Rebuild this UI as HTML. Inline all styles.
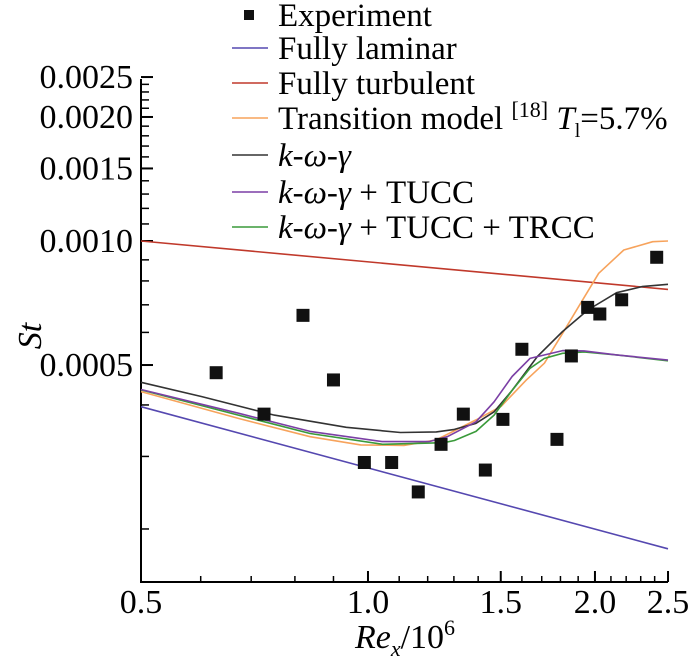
<!DOCTYPE html>
<html><head><meta charset="utf-8"><style>
html,body{margin:0;padding:0;background:#fff;}
svg, svg text, svg tspan{font-family:"Liberation Serif","Times New Roman","DejaVu Serif",serif !important;}
</style></head><body>
<svg id="chart" width="700" height="661" viewBox="0 0 700 661" xmlns="http://www.w3.org/2000/svg" font-family="Liberation Serif, serif">
<g id="axes"></g>
<g id="series"></g>
<g id="legend"></g>
<text x="0" y="0" transform="translate(33,336) rotate(-90)" font-size="34" font-style="italic" text-anchor="middle" dominant-baseline="middle">St</text>
<text x="405" y="648" font-size="34" text-anchor="middle"><tspan font-style="italic">Re</tspan><tspan font-style="italic" font-size="22" dy="8">x</tspan><tspan dy="-8">/10</tspan><tspan font-size="22" dy="-13">6</tspan></text>
</svg>
<script>
const xMajorTicks=[0.5,1.0,1.5,2.0,2.5];
const xTickLabels=["0.5","1.0","1.5","2.0","2.5"];
const xMinorTicks=[0.6,0.7,0.8,0.9,1.1,1.2,1.3,1.4,1.6,1.7,1.8,1.9,2.1,2.2,2.3,2.4];
const yMajorTicks=[0.0005,0.0010,0.0015,0.0020,0.0025];
const yTickLabels=["0.0005","0.0010","0.0015","0.0020","0.0025"];
const yMinorTicks=[0.0002,0.0003,0.0004,0.0006,0.0007,0.0008,0.0009,0.0011,0.0012,0.0013,0.0014,0.0016,0.0017,0.0018,0.0019,0.0021,0.0022,0.0023,0.0024];

const expRe=[0.629,0.728,0.820,0.900,0.989,1.075,1.166,1.25,1.338,1.431,1.51,1.60,1.781,1.861,1.956,2.03,2.17,2.415];
const expSt=[0.000479,0.000380,0.00066,0.00046,0.00029,0.00029,0.000246,0.000321,0.00038,0.000278,0.000369,0.000546,0.00033,0.000526,0.00069,0.000665,0.00072,0.000913];

const lamRe=[0.5,2.5];
const lamSt=[0.000396,0.000179];
const turbRe=[0.5,2.5];
const turbSt=[0.001,0.000763];
const kwgRe=[0.5,0.602,0.751,0.936,1.104,1.232,1.302,1.391,1.470,1.553,1.677,1.812,1.957,2.137,2.308,2.5];
const kwgSt=[0.000454,0.000419,0.000378,0.000353,0.000343,0.000344,0.000349,0.000361,0.000385,0.000434,0.000524,0.000603,0.00068,0.000749,0.000775,0.000785];
const tuccRe=[0.5,0.673,0.838,1.045,1.205,1.274,1.391,1.470,1.553,1.640,1.812,1.935,2.137,2.5];
const tuccSt=[0.000436,0.000382,0.000345,0.000326,0.000326,0.000335,0.000364,0.000407,0.000469,0.000519,0.000542,0.000541,0.000529,0.000514];
const trccRe=[0.5,0.673,0.838,1.045,1.260,1.302,1.391,1.470,1.553,1.640,1.714,1.812,1.935,2.137,2.5];
const trccSt=[0.000435,0.000378,0.000341,0.000321,0.000324,0.000328,0.000345,0.000378,0.000434,0.000491,0.000519,0.000534,0.000538,0.000529,0.000512];
const transRe=[0.5,0.673,0.838,0.978,1.116,1.232,1.391,1.502,1.622,1.714,1.812,1.914,2.023,2.184,2.386,2.5];
const transSt=[0.000431,0.000371,0.000335,0.00032,0.000319,0.000329,0.000368,0.000397,0.00046,0.000505,0.000597,0.000706,0.000835,0.000951,0.000996,0.001];

const NS="http://www.w3.org/2000/svg";
const X0=141,X1=668,Y_REF=241,PX_DEC_X=754,PX_DEC_Y=412,YBOT=582,YTOP=79;
function xs(v){return X0+PX_DEC_X*Math.log10(v/0.5);}
function ys(v){return Y_REF-PX_DEC_Y*Math.log10(v/0.001);}
function mk(tag,attrs,parent){const e=document.createElementNS(NS,tag);for(const k in attrs)e.setAttribute(k,attrs[k]);parent.appendChild(e);return e;}

const axes=document.getElementById('axes');
let a=mk('line',{x1:X0,y1:YTOP,x2:X0,y2:YBOT,stroke:'#000','stroke-width':2},axes);


a=mk('line',{x1:X0-1,y1:YBOT,x2:X1,y2:YBOT,stroke:'#000','stroke-width':2},axes);


xMajorTicks.forEach((v,i)=>{
  const t=mk('line',{x1:xs(v),y1:YBOT,x2:xs(v),y2:YBOT-11,stroke:'#000','stroke-width':2},axes);
  
  
  const l=mk('text',{x:xs(v),y:613,'font-size':34,'text-anchor':'middle'},axes);
  l.textContent=xTickLabels[i];
  
  
});
xMinorTicks.forEach(v=>{
  const t=mk('line',{x1:xs(v),y1:YBOT,x2:xs(v),y2:YBOT-6,stroke:'#000','stroke-width':1.5},axes);
  
  
});
yMajorTicks.forEach((v,i)=>{
  const t=mk('line',{x1:X0,y1:ys(v),x2:X0+12,y2:ys(v),stroke:'#000','stroke-width':2},axes);
  
  
  const l=mk('text',{x:133,y:ys(v)+11,'font-size':34,'text-anchor':'end'},axes);
  l.textContent=yTickLabels[i];
  
  
});
yMinorTicks.forEach(v=>{
  const t=mk('line',{x1:X0,y1:ys(v),x2:X0+8,y2:ys(v),stroke:'#000','stroke-width':1.5},axes);
  
  
});

const series=document.getElementById('series');
function drawLine(re,st,color,name){
  const d=re.map((v,i)=>(i?'L':'M')+xs(v).toFixed(1)+','+ys(st[i]).toFixed(1)).join(' ');
  const p=mk('path',{d:d,fill:'none',stroke:color,'stroke-width':1.6,'stroke-linejoin':'round'},series);
  
  
}
drawLine(turbRe,turbSt,'#c0392b','fully-turbulent-line');
drawLine(lamRe,lamSt,'#5548b0','fully-laminar-line');
drawLine(transRe,transSt,'#f7a35c','transition-model-line');
drawLine(kwgRe,kwgSt,'#333333','k-omega-gamma-line');
drawLine(trccRe,trccSt,'#3a9a3a','tucc-trcc-line');
drawLine(tuccRe,tuccSt,'#7b3fa5','tucc-line');
expRe.forEach((v,i)=>{
  const r=mk('rect',{x:xs(v)-6.5,y:ys(expSt[i])-6.5,width:13,height:13,fill:'#111'},series);
  
  
});
</script>
<script>
(function(){
const lg=document.getElementById('legend');
const NS="http://www.w3.org/2000/svg";
function mk(tag,attrs,parent){const e=document.createElementNS(NS,tag);for(const k in attrs)e.setAttribute(k,attrs[k]);parent.appendChild(e);return e;}
const rowsY=[15,48,83,118,155,192,227];
const colors=[null,'#5548b0','#c0392b','#f7a35c','#333333','#7b3fa5','#3a9a3a'];
const labels=['Experiment','Fully laminar','Fully turbulent',
 'Transition model <tspan font-size="22" dy="-12">[18]</tspan><tspan dy="12"> </tspan><tspan font-style="italic">T</tspan><tspan font-size="20" dy="8">l</tspan><tspan dy="-8">=5.7%</tspan>',
 '<tspan font-style="italic">k-ω-γ</tspan>',
 '<tspan font-style="italic">k-ω-γ</tspan> + TUCC',
 '<tspan font-style="italic">k-ω-γ</tspan> + TUCC + TRCC'];
rowsY.forEach((y,i)=>{
  if(i===0){
    const m=mk('rect',{x:244,y:y-5,width:10,height:10,fill:'#111'},lg);
    
    
  } else {
    const l=mk('line',{x1:232,y1:y,x2:268,y2:y,stroke:colors[i],'stroke-width':1.6},lg);
    
    
  }
  const t=mk('text',{x:278,y:y+11,'font-size':33,'font-family':'Liberation Serif, serif'},lg);
  t.innerHTML=labels[i];
  
  
});
})();
</script>
</body></html>
